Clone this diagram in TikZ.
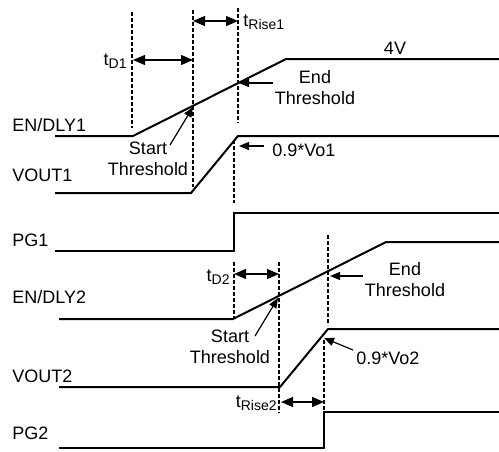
\documentclass[tikz,border=0pt]{standalone}
\usepackage{fontspec}
\setmainfont{Liberation Sans}
\usetikzlibrary{arrows.meta, positioning}
\newcommand{\tsub}[1]{{\fontsize{7}{8}\selectfont\raisebox{-1.5pt}{#1}}}

\begin{document}
\begin{tikzpicture}[x=0.5pt, y=-0.5pt,
            sig/.style={line width=1pt},
            vline/.style={line width=0.8pt, dash pattern=on 1.8pt off 1.2pt},
            dim/.style={{Triangle[length=6pt,width=5pt]}-{Triangle[length=6pt,width=5pt]}, line width=0.6pt},
            ptr/.style={-{Triangle[length=5pt,width=4pt]}, line width=0.6pt},
            lbl/.style={font=\fontsize{9}{10.5}\selectfont, inner sep=0pt, align=center}]
            \useasboundingbox (0,0) rectangle (499,451);
            % signal names
            \node[lbl, anchor=west] (en1) at (12,125) {EN/DLY1};
            \node[lbl, anchor=west] (vo1) at (12,175) {VOUT1};
            \node[lbl, anchor=west] (pg1) at (12,240) {PG1};
            \node[lbl, anchor=west] (en2) at (12,297) {EN/DLY2};
            \node[lbl, anchor=west] (vo2) at (12,376) {VOUT2};
            \node[lbl, anchor=west] (pg2) at (12,433) {PG2};
            % waveforms
            \draw[sig] (55,136) -- (133,136) -- (286,59) -- (499,59);
            \draw[sig] (55,193) -- (191,193) -- (238,136) -- (499,136);
            \draw[sig] (55,251) -- (234,251) -- (234,213) -- (499,213);
            \draw[sig] (59,319) -- (233,319) -- (386,242) -- (499,242);
            \draw[sig] (59,387) -- (280,387) -- (328,329) -- (499,329);
            \draw[sig] (59,448) -- (324,448) -- (324,412) -- (499,412);
            % timing marks
            \draw[vline] (132,12) -- (132,128);
            \draw[vline] (193,10) -- (193,187);
            \draw[vline] (238,8) -- (238,123);
            \draw[vline] (234,140) -- (234,203);
            \draw[vline] (234,262) -- (234,318);
            \draw[vline] (279,262) -- (279,413);
            \draw[vline] (328,235) -- (328,325);
            \draw[vline] (324,340) -- (324,410);
            % channel 1
            \coordinate (d1a) at (133,60); \coordinate (d1b) at (193,60);
            \coordinate (r1a) at (193,21); \coordinate (r1b) at (238,21);
            \draw[dim] (d1a) -- (d1b);
            \draw[dim] (r1a) -- (r1b);
            \node[lbl, anchor=base east] (td1) at (127,65) {t\tsub{D1}};
            \node[lbl, anchor=base west] (tr1) at (243,26) {t\tsub{Rise1}};
            \node[lbl] (lvl) at (395,48) {4V};
            \node[lbl] (st1) at (148,159) {Start\\Threshold};
            \node[lbl] (et1) at (315,88) {End\\Threshold};
            \node[lbl, anchor=west] (vt1) at (272,150) {0.9*Vo1};
            \coordinate (s1) at (193,107); \coordinate (e1) at (239,83);
            \coordinate (v1) at (239,146);
            \draw[ptr] (170,145) -- (s1);
            \draw[ptr] (et1.west |- e1) ++(-2,0) -- (e1);
            \draw[ptr] (vt1.west) ++(-8,-4) -- (v1);
            % channel 2
            \coordinate (d2a) at (234,274); \coordinate (d2b) at (279,274);
            \coordinate (r2a) at (281,402); \coordinate (r2b) at (324,402);
            \draw[dim] (d2a) -- (d2b);
            \draw[dim] (r2a) -- (r2b);
            \node[lbl, anchor=base east] (td2) at (230,281) {t\tsub{D2}};
            \node[lbl, anchor=base east] (tr2) at (277,407) {t\tsub{Rise2}};
            \node[lbl] (st2) at (230,347) {Start\\Threshold};
            \node[lbl] (et2) at (405,280) {End\\Threshold};
            \node[lbl, anchor=west] (vt2) at (356,358) {0.9*Vo2};
            \coordinate (s2) at (278,298); \coordinate (e2) at (330,276);
            \coordinate (v2) at (324,338);
            \draw[ptr] (255,336) -- (s2);
            \draw[ptr] (363,276) -- (e2);
            \draw[ptr] (353,350) -- (v2);
\end{tikzpicture}
\end{document}
